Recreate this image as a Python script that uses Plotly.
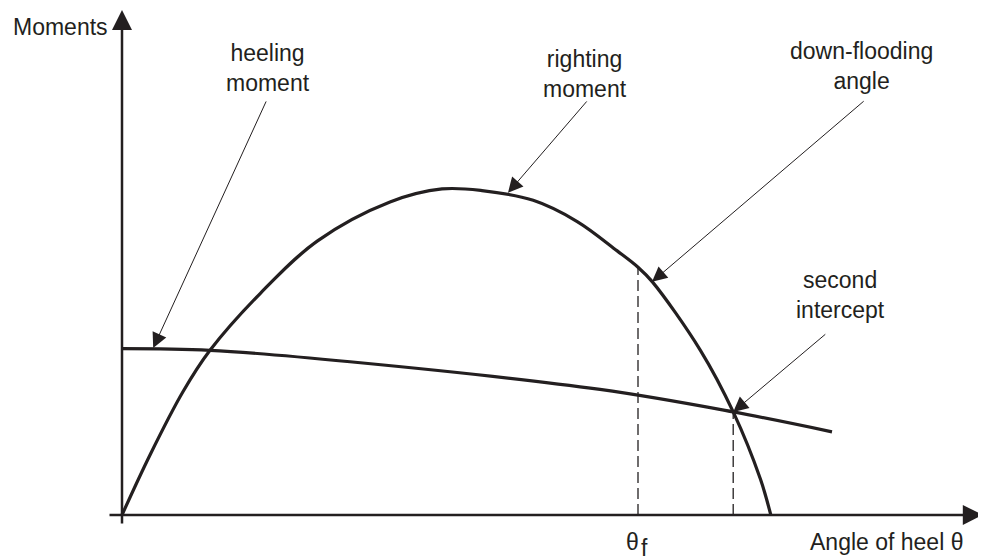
import plotly.graph_objects as go

# values (angle in deg, moment in arbitrary units)
righting_angle = [0, 3.5, 7.6, 11, 17.3, 24.4, 33.5, 40, 45, 51.4, 56.9, 61.9, 64.5, 66.3, 72.3, 76.4, 79.8, 81.1]
righting_moment = [0, 1.84, 3.77, 5.05, 6.8, 8.4, 9.6, 10.0, 9.95, 9.65, 9.0, 8.1, 7.6, 7.15, 5.05, 3.16, 1.1, 0]
heeling_angle = [0, 11, 28.5, 59.75, 76.4, 88.75]
heeling_moment = [5.1, 5.05, 4.7, 3.85, 3.16, 2.55]
theta_f = 64.5
theta_f_moment = 7.6
theta_2 = 76.4
theta_2_moment = 3.16

ink = "#231f20"
font = dict(family="Liberation Sans, Arial, sans-serif", size=23, color=ink)

fig = go.Figure()
fig.add_trace(go.Scatter(x=righting_angle, y=righting_moment, mode="lines",
                         line=dict(color=ink, width=3.2, shape="spline", smoothing=1.0), name="righting moment"))
fig.add_trace(go.Scatter(x=heeling_angle, y=heeling_moment, mode="lines",
                         line=dict(color=ink, width=3.2, shape="spline", smoothing=1.0), name="heeling moment"))
fig.add_trace(go.Scatter(x=[theta_f, theta_f], y=[0, theta_f_moment], mode="lines",
                         line=dict(color=ink, width=1.3, dash="11px,5px"), name="theta f"))
fig.add_trace(go.Scatter(x=[theta_2, theta_2], y=[0, theta_2_moment], mode="lines",
                         line=dict(color=ink, width=1.3, dash="11px,5px"), name="theta 2"))

# axes drawn as arrows
axis_arrow = dict(text="", showarrow=True, arrowhead=2, arrowwidth=2.5, arrowsize=1.6,
                  arrowcolor=ink, xref="x", yref="y", axref="x", ayref="y", standoff=0)
fig.add_annotation(x=0, y=15.49, ax=0, ay=-0.31, **axis_arrow)
fig.add_annotation(x=107.6, y=0, ax=-1.75, ay=0, **axis_arrow)

# pointer arrows
pointer = dict(text="", showarrow=True, arrowhead=2, arrowwidth=1, arrowsize=3,
               arrowcolor=ink, xref="x", yref="y", axref="x", ayref="y", standoff=0)
fig.add_annotation(x=3.9, y=5.12, ax=18.1, ay=12.73, **pointer)
fig.add_annotation(x=48.25, y=9.88, ax=58.25, ay=12.73, **pointer)
fig.add_annotation(x=66.25, y=7.15, ax=92.9, ay=12.73, **pointer)
fig.add_annotation(x=76.4, y=3.16, ax=88.1, ay=5.58, **pointer)

labels = [
    ("Moments", -7.75, 14.97),
    ("heeling<br>moment", 18.25, 13.7),
    ("righting<br>moment", 57.9, 13.54),
    ("down-flooding<br>angle", 92.4, 13.76),
    ("second<br>intercept", 89.75, 6.75),
    ("θ", 63.75, -0.83),
    ("f", 65.3, -1.0),
    ("Angle of heel θ", 95.6, -0.83),
]
for txt, x, y in labels:
    fig.add_annotation(text=txt, x=x, y=y, xref="x", yref="y", showarrow=False,
                       xanchor="center", yanchor="middle", font=font)

# page body adds an 8px margin, so the figure is 8px smaller
fig.update_layout(width=978, height=550, margin=dict(l=0, r=0, t=0, b=0),
                  plot_bgcolor="white", paper_bgcolor="white", showlegend=False)
fig.update_xaxes(visible=False, range=[-14.25, 108])
fig.update_yaxes(visible=False, range=[-1.32, 15.55])
fig.write_html("out.html")
